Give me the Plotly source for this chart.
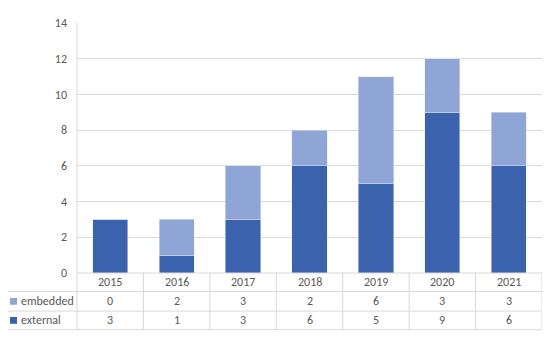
import plotly.graph_objects as go

years = ["2015", "2016", "2017", "2018", "2019", "2020", "2021"]
embedded = [0, 2, 3, 2, 6, 3, 3]
external = [3, 1, 3, 6, 5, 9, 6]
y_ticks = [0, 2, 4, 6, 8, 10, 12, 14]

c_ext = "#3A62AD"
c_emb = "#8FA5D6"
grid = "#D9D9D9"
txt = "#595959"
font_family = "Carlito, Lato, Open Sans, sans-serif"

OFF = 8  # page body margin
W, H = 550 - OFF, 339 - OFF
PL, PR, PT, PB = 77, 542, 17, 273
L, T = PL - OFF, PT - OFF
R = W - (PR - OFF)
B = H - (PB - OFF)
ph = H - T - B
pw = W - L - R

def py(pix):
    return (PB - pix) / ph

def px(pix):
    return (pix - PL) / pw

fig = go.Figure()
xs = list(range(len(years)))
fig.add_trace(go.Bar(x=xs, y=external, name="external", marker_color=c_ext))
fig.add_trace(go.Bar(x=xs, y=embedded, name="embedded", marker_color=c_emb))

shapes = []
ann = []
row_y = [273, 292, 312, 331]
shapes.append(dict(type="line", xref="paper", yref="paper", x0=0, x1=1, y0=py(273), y1=py(273), line=dict(color=grid, width=1)))
for yy in row_y[1:]:
    shapes.append(dict(type="line", xref="paper", yref="paper", x0=px(6), x1=1, y0=py(yy), y1=py(yy), line=dict(color=grid, width=1)))
shapes.append(dict(type="line", xref="paper", yref="paper", x0=px(6), x1=px(6), y0=py(292), y1=py(331), line=dict(color=grid, width=1)))
shapes.append(dict(type="line", xref="paper", yref="paper", x0=0, x1=0, y0=1, y1=py(331), line=dict(color=grid, width=1)))
for i in range(len(years)):
    shapes.append(dict(type="line", xref="x", yref="paper", x0=i + 0.5, x1=i + 0.5, y0=py(273), y1=py(331), line=dict(color=grid, width=1)))

fs = 12
def cell(x, y, text, xref="x", xanchor="center"):
    return dict(x=x, y=y, xref=xref, yref="paper", text=text, showarrow=False,
                xanchor=xanchor, yanchor="middle",
                font=dict(size=fs, color=txt, family=font_family))

for i, yr in enumerate(years):
    ann.append(cell(i, py(282.5), yr))
    ann.append(cell(i, py(302), str(embedded[i])))
    ann.append(cell(i, py(321.5), str(external[i])))

for name, col, yc in [("embedded", c_emb, 302), ("external", c_ext, 321.5)]:
    shapes.append(dict(type="rect", xref="paper", yref="paper", x0=px(10), x1=px(17), y0=py(yc + 3.5), y1=py(yc - 3.5), fillcolor=col, line=dict(width=0)))
    ann.append(cell(px(19), py(yc), name, xref="paper", xanchor="left"))

fig.update_layout(
    barmode="stack",
    bargap=0.47,
    width=W, height=H,
    margin=dict(l=L, r=R, t=T, b=B),
    paper_bgcolor="white", plot_bgcolor="white",
    showlegend=False,
    shapes=shapes,
    annotations=ann,
    font=dict(family=font_family, color=txt, size=fs),
    xaxis=dict(range=[-0.5, len(years) - 0.5], showticklabels=False, showgrid=False, zeroline=False, fixedrange=True),
    yaxis=dict(range=[0, 14], tickvals=y_ticks, showgrid=True, gridcolor=grid, gridwidth=1, zeroline=False,
               showline=False, ticks="", ticklen=0, tickfont=dict(size=fs, color=txt), ticklabelstandoff=9),
)
fig.write_html("out.html")
